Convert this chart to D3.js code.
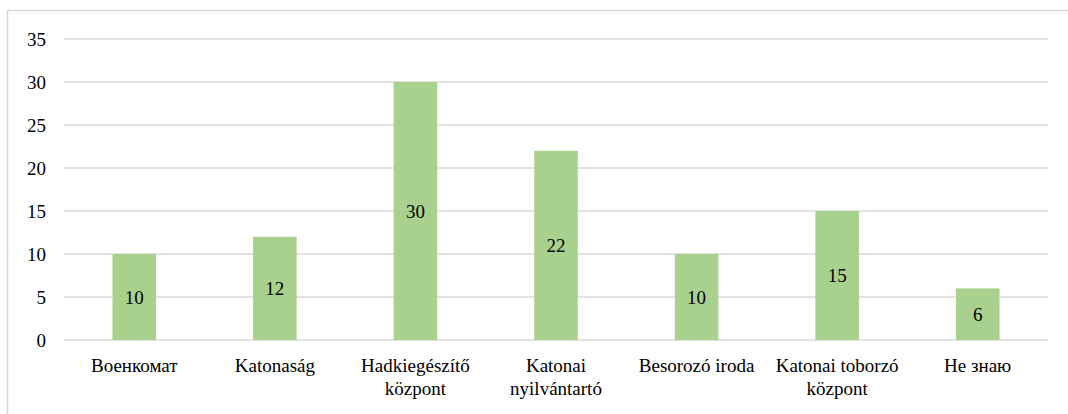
<!DOCTYPE html>
<html lang="hu">
<head>
    <meta charset="UTF-8">
    <title>Chart</title>
    <script src="https://d3js.org/d3.v7.min.js"></script>
    <style>
        body { margin: 0; background: #fff; }
        .grid line { stroke: #d9d9d9; stroke-width: 1.5; }
        .bar { fill: #a9d18e; }
    </style>
</head>
<body>
    <svg width="1068" height="414"></svg>
    <script>
        const categories = [
            ["Военкомат"],
            ["Katonaság"],
            ["Hadkiegészítő", "központ"],
            ["Katonai", "nyilvántartó"],
            ["Besorozó iroda"],
            ["Katonai toborzó", "központ"],
            ["Не знаю"]
        ];
        const values = [10, 12, 30, 22, 10, 15, 6];
        const yTicks = [0, 5, 10, 15, 20, 25, 30, 35];

        const serif = "'Liberation Serif', 'Times New Roman', Times, serif";
        const svg = d3.select("svg")
                      .style("font-family", serif);
        const plotLeft = 64, plotRight = 1048, plotTop = 39, plotBottom = 340;
        const fs = 19;

        // outer chart border
        svg.append("rect")
           .attr("x", 7.5).attr("y", 10.5)
           .attr("width", 1080).attr("height", 420)
           .attr("fill", "none").attr("stroke", "#d9d9d9").attr("stroke-width", 1.5);

        const x = d3.scaleBand()
                    .domain(d3.range(values.length))
                    .range([plotLeft, plotRight])
                    .paddingInner(0.69)
                    .paddingOuter(0.345);

        const y = d3.scaleLinear().domain([0, 35]).range([plotBottom, plotTop]);

        svg.append("g")
           .attr("class", "grid")
           .selectAll("line")
           .data(yTicks)
           .enter().append("line")
           .attr("x1", plotLeft).attr("x2", plotRight)
           .attr("y1", d => y(d)).attr("y2", d => y(d));

        svg.append("g")
           .selectAll("text")
           .data(yTicks)
           .enter().append("text")
           .attr("x", 46)
           .attr("y", d => y(d))
           .attr("dy", "0.35em")
           .attr("text-anchor", "end")
           .attr("font-size", fs)
           .text(d => d);

        svg.selectAll(".bar")
           .data(values)
           .enter().append("rect")
           .attr("class", "bar")
           .attr("x", (d, i) => x(i))
           .attr("y", d => y(d))
           .attr("width", x.bandwidth())
           .attr("height", d => plotBottom - y(d));

        svg.append("g")
           .selectAll("text")
           .data(values)
           .enter().append("text")
           .attr("x", (d, i) => x(i) + x.bandwidth() / 2)
           .attr("y", d => (y(d) + plotBottom) / 2)
           .attr("dy", "0.35em")
           .attr("text-anchor", "middle")
           .attr("font-size", fs)
           .text(d => d);

        const labels = svg.append("g")
           .selectAll("text")
           .data(categories)
           .enter().append("text")
           .attr("text-anchor", "middle")
           .attr("font-size", fs)
           .attr("transform", (d, i) => `translate(${x(i) + x.bandwidth() / 2}, 372)`);

        labels.selectAll("tspan")
           .data(d => d)
           .enter().append("tspan")
           .attr("x", 0)
           .attr("y", (d, j) => j * 23)
           .text(d => d);
    </script>
</body>
</html>
